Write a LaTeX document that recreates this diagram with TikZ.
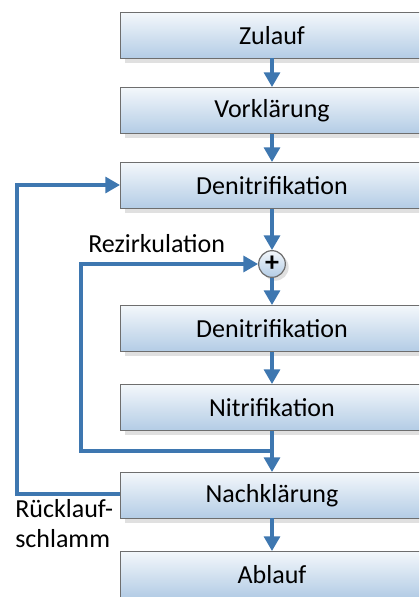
\documentclass[tikz,border=0pt]{standalone}
\usepackage{fontspec}
\setmainfont{Carlito}
\usetikzlibrary{arrows.meta,shadows}
\definecolor{flow}{HTML}{3E77B0}
\definecolor{boxtop}{HTML}{F3F7FB}
\definecolor{boxbot}{HTML}{B3CCE5}
\definecolor{boxline}{HTML}{6E6E6E}
\tikzset{
  stage/.style={draw=boxline, line width=0.9pt, top color=boxtop, bottom color=boxbot,
    minimum width=228pt, minimum height=34.5pt, inner sep=0pt, anchor=north west,
    drop shadow={shadow xshift=3pt, shadow yshift=-3pt, fill=black!12, opacity=1}},
  mixer/.style={circle, draw=boxline, line width=0.9pt, top color=boxtop, bottom color=boxbot,
    minimum size=20pt, inner sep=0pt, font=\bfseries\fontsize{21}{21}\selectfont,
    drop shadow={shadow xshift=2.5pt, shadow yshift=-2.5pt, fill=black!12, opacity=1}},
  flowline/.style={draw=flow, line width=2.4pt, -{Triangle[width=12pt,length=11pt]}},
  lbl/.style={font=\fontsize{19.5}{22}\selectfont, inner sep=0pt}
}
\begin{document}
\begin{tikzpicture}[x=0.75pt,y=-0.75pt]
\useasboundingbox (0,0) rectangle (419,597);
\begin{scope}
\clip (0,0) rectangle (419,597);
\node[stage] (zu) at (120,12) {};
\node[stage] (vk) at (120,87) {};
\node[stage] (d1) at (120,162) {};
\node[stage] (d2) at (120,305) {};
\node[stage] (ni) at (120,384) {};
\node[stage] (nk) at (120,472) {};
\node[stage] (ab) at (120,551) {};
\end{scope}
\node[lbl] (tzu) at (272,35.5) {Zulauf};
\node[lbl] (tvk) at (272,110.5) {Vorklärung};
\node[lbl] (td1) at (272,185.5) {Denitrifikation};
\node[lbl] (td2) at (272,328.5) {Denitrifikation};
\node[lbl] (tni) at (272,407.5) {Nitrifikation};
\node[lbl] (tnk) at (272,495.5) {Nachklärung};
\node[lbl] (tab) at (272,574.5) {Ablauf};
\node[mixer] (mx) at (272,264) {\raisebox{1pt}{+}};
\coordinate (zub) at (272,58);
\coordinate (vkt) at (272,87);
\coordinate (vkb) at (272,134);
\coordinate (d1t) at (272,162);
\coordinate (d1b) at (272,209);
\coordinate (d2t) at (272,305);
\coordinate (d2b) at (272,352);
\coordinate (nit) at (272,384);
\coordinate (nib) at (272,431);
\coordinate (nkt) at (272,472);
\coordinate (nkb) at (272,518);
\coordinate (abt) at (272,551);
\coordinate (split) at (272,451);
\coordinate (d1l) at (120,185);
\coordinate (nkl) at (120,494);
\draw[flowline] (zub) -- (vkt);
\draw[flowline] (vkb) -- (d1t);
\draw[flowline] (d1b) -- (mx);
\draw[flowline] (mx) -- (d2t);
\draw[flowline] (d2b) -- (nit);
\draw[flowline] (nib) -- (nkt);
\draw[flowline] (nkb) -- (abt);
\draw[flowline] (split) -| (81,264) -- (mx);
\draw[flowline] (nkl) -| (17,185) -- (d1l);
\node[lbl, anchor=base west] (rez) at (88,252) {Rezirkulation};
\node[lbl, anchor=base west] (rl1) at (15,517) {Rücklauf-};
\node[lbl, anchor=base west] (rl2) at (15,547) {schlamm};
\end{tikzpicture}
\end{document}
